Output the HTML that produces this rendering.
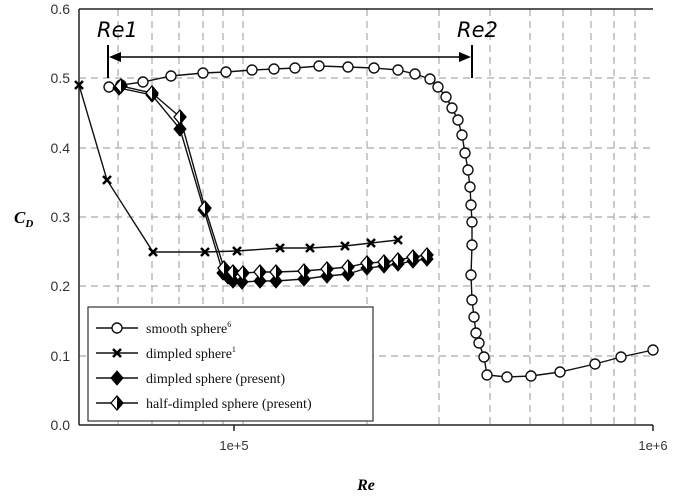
<!DOCTYPE html>
<html><head><style>body{margin:0;background:#fff}</style></head><body>
<svg width="680" height="492" xmlns="http://www.w3.org/2000/svg" font-family="Liberation Sans, sans-serif">
<defs>
<path id="fd" d="M0,-7l6,7l-6,7l-6,-7z" fill="#000" stroke="#000"/>
<g id="hd"><path d="M0,-7l6,7l-6,7l-6,-7z" fill="#fff" stroke="#000" stroke-width="1.3"/><path d="M0,-7l6,7l-6,7z" fill="#000"/></g>
</defs>
<rect width="680" height="492" fill="#fff"/>
<g stroke="#aaa" stroke-width="1.2" stroke-dasharray="7,5">
<line x1="79" y1="78" x2="653" y2="78"/><line x1="79" y1="148" x2="653" y2="148"/><line x1="79" y1="217" x2="653" y2="217"/><line x1="79" y1="286" x2="653" y2="286"/><line x1="79" y1="356" x2="653" y2="356"/>
<line x1="118" y1="9" x2="118" y2="425"/><line x1="152" y1="9" x2="152" y2="425"/><line x1="179" y1="9" x2="179" y2="425"/><line x1="203" y1="9" x2="203" y2="425"/><line x1="223" y1="9" x2="223" y2="425"/><line x1="243" y1="9" x2="243" y2="425"/>
<line x1="367" y1="9" x2="367" y2="425"/><line x1="439" y1="9" x2="439" y2="425"/><line x1="490" y1="9" x2="490" y2="425"/><line x1="530" y1="9" x2="530" y2="425"/><line x1="563" y1="9" x2="563" y2="425"/><line x1="591" y1="9" x2="591" y2="425"/><line x1="614" y1="9" x2="614" y2="425"/><line x1="635" y1="9" x2="635" y2="425"/>
</g>
<g stroke="#222" stroke-width="1.5" fill="none">
<line x1="79" y1="9" x2="653" y2="9"/><line x1="79" y1="9" x2="79" y2="425"/><line x1="79" y1="425" x2="653" y2="425"/>
<line x1="234" y1="425" x2="234" y2="431"/><line x1="653" y1="425" x2="653" y2="431"/>
</g>
<g font-size="14" fill="#333" text-anchor="end">
<text x="70" y="14">0.6</text><text x="70" y="83">0.5</text><text x="70" y="153">0.4</text><text x="70" y="222">0.3</text><text x="70" y="291">0.2</text><text x="70" y="361">0.1</text><text x="70" y="430">0.0</text>
</g>
<g font-size="13" fill="#333" text-anchor="middle"><text x="234" y="450">1e+5</text><text x="653" y="450">1e+6</text></g>
<text x="366" y="490" font-family="Liberation Serif, serif" font-weight="bold" font-style="italic" font-size="16" text-anchor="middle">Re</text>
<text x="14" y="223" font-family="Liberation Serif, serif" font-weight="bold" font-style="italic" font-size="17">C<tspan font-size="11" dy="4">D</tspan></text>
<g stroke="#000" stroke-width="2"><line x1="108" y1="45" x2="108" y2="78"/><line x1="472" y1="45" x2="472" y2="78"/><line x1="112" y1="57" x2="468" y2="57" stroke-width="1.5"/></g>
<polygon points="109,57 121,52 121,62" fill="#000"/><polygon points="471,57 459,52 459,62" fill="#000"/>
<g font-size="21" font-style="italic" font-family="DejaVu Sans, sans-serif"><text x="97" y="37">Re1</text><text x="457" y="37">Re2</text></g>
<g fill="none" stroke="#111" stroke-width="1.4">
<polyline points="79,85 107,180 153,252 205,252 237,251 280,248 310,248 345,246 371,243 398,240"/>
<polyline points="119,88 152,95 180,129 204,210 223,273 228,277 233,281 242,282 260,281 276,281 304,279 327,276 348,274 367,268 384,266 398,264 413,261 427,259"/>
<polyline points="121,86 152,93 180,117 205,208 224,268 233,272 243,273 260,272 276,272 304,271 327,269 348,267 367,263 384,262 398,260 413,257 427,255"/>
<polyline points="109,87 121,85 143,82 171,76 203,73 226,72 252,70 274,69 295,68 319,66 348,67 374,68 398,70 415,74 430,79 438,87 446,97 452,108 458,120 462,135 465,153 468,170 470,187 471,205 472,222 472,245 471,275 472,300 474,317 476,333 479,343 484,357 487,375 507,377 531,376 560,372 595,364 621,357 653,350"/>
</g>
<g fill="#fff" stroke="#111" stroke-width="1.4">
<circle cx="109" cy="87" r="5"/><circle cx="121" cy="85" r="5"/><circle cx="143" cy="82" r="5"/><circle cx="171" cy="76" r="5"/><circle cx="203" cy="73" r="5"/><circle cx="226" cy="72" r="5"/><circle cx="252" cy="70" r="5"/><circle cx="274" cy="69" r="5"/><circle cx="295" cy="68" r="5"/><circle cx="319" cy="66" r="5"/><circle cx="348" cy="67" r="5"/><circle cx="374" cy="68" r="5"/><circle cx="398" cy="70" r="5"/><circle cx="415" cy="74" r="5"/><circle cx="430" cy="79" r="5"/><circle cx="438" cy="87" r="5"/><circle cx="446" cy="97" r="5"/><circle cx="452" cy="108" r="5"/><circle cx="458" cy="120" r="5"/><circle cx="462" cy="135" r="5"/><circle cx="465" cy="153" r="5"/><circle cx="468" cy="170" r="5"/><circle cx="470" cy="187" r="5"/><circle cx="471" cy="205" r="5"/><circle cx="472" cy="222" r="5"/><circle cx="472" cy="245" r="5"/><circle cx="471" cy="275" r="5"/><circle cx="472" cy="300" r="5"/><circle cx="474" cy="317" r="5"/><circle cx="476" cy="333" r="5"/><circle cx="479" cy="343" r="5"/><circle cx="484" cy="357" r="5"/><circle cx="487" cy="375" r="5"/><circle cx="507" cy="377" r="5"/><circle cx="531" cy="376" r="5"/><circle cx="560" cy="372" r="5"/><circle cx="595" cy="364" r="5"/><circle cx="621" cy="357" r="5"/><circle cx="653" cy="350" r="5"/>
</g>
<g stroke="#000" stroke-width="2.5">
<path d="M75,81l8,8M83,81l-8,8M103,176l8,8M111,176l-8,8M149,248l8,8M157,248l-8,8M201,248l8,8M209,248l-8,8M233,247l8,8M241,247l-8,8M276,244l8,8M284,244l-8,8M306,244l8,8M314,244l-8,8M341,242l8,8M349,242l-8,8M367,239l8,8M375,239l-8,8M394,236l8,8M402,236l-8,8"/>
</g>
<use href="#fd" x="119" y="88"/><use href="#fd" x="152" y="95"/><use href="#fd" x="180" y="129"/><use href="#fd" x="204" y="210"/><use href="#fd" x="223" y="273"/><use href="#fd" x="228" y="277"/><use href="#fd" x="233" y="281"/><use href="#fd" x="242" y="282"/><use href="#fd" x="260" y="281"/><use href="#fd" x="276" y="281"/><use href="#fd" x="304" y="279"/><use href="#fd" x="327" y="276"/><use href="#fd" x="348" y="274"/><use href="#fd" x="367" y="268"/><use href="#fd" x="384" y="266"/><use href="#fd" x="398" y="264"/><use href="#fd" x="413" y="261"/><use href="#fd" x="427" y="259"/>
<use href="#hd" x="121" y="86"/><use href="#hd" x="152" y="93"/><use href="#hd" x="180" y="117"/><use href="#hd" x="205" y="208"/><use href="#hd" x="224" y="268"/><use href="#hd" x="233" y="272"/><use href="#hd" x="243" y="273"/><use href="#hd" x="260" y="272"/><use href="#hd" x="276" y="272"/><use href="#hd" x="304" y="271"/><use href="#hd" x="327" y="269"/><use href="#hd" x="348" y="267"/><use href="#hd" x="367" y="263"/><use href="#hd" x="384" y="262"/><use href="#hd" x="398" y="260"/><use href="#hd" x="413" y="257"/><use href="#hd" x="427" y="255"/>
<rect x="88" y="307" width="285" height="114" fill="#fff" stroke="#333" stroke-width="1.2"/>
<g stroke="#111" stroke-width="1.4"><line x1="96" y1="328" x2="138" y2="328"/><line x1="96" y1="353" x2="138" y2="353"/><line x1="96" y1="378" x2="138" y2="378"/><line x1="96" y1="403" x2="138" y2="403"/></g>
<circle cx="117" cy="328" r="5" fill="#fff" stroke="#111" stroke-width="1.4"/>
<path d="M113,349l8,8M121,349l-8,8" stroke="#000" stroke-width="2.5"/>
<use href="#fd" x="117" y="378"/>
<use href="#hd" x="117" y="403"/>
<g font-family="Liberation Serif, serif" font-size="14" fill="#111">
<text x="146" y="333">smooth sphere<tspan font-size="8" dy="-6">6</tspan></text>
<text x="146" y="358">dimpled sphere<tspan font-size="8" dy="-6">1</tspan></text>
<text x="146" y="383">dimpled sphere (present)</text>
<text x="146" y="408">half-dimpled sphere (present)</text>
</g>
</svg>
</body></html>
